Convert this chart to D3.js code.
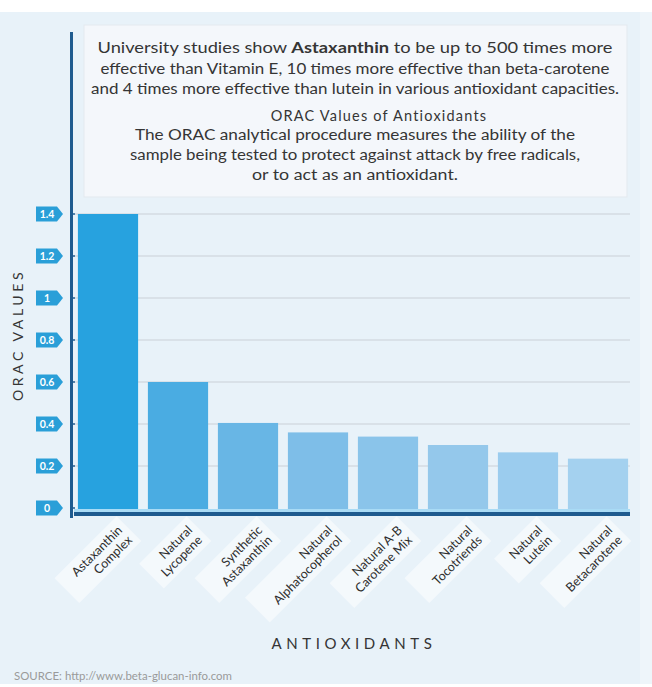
<!DOCTYPE html>
<html><head><meta charset="utf-8">
<script src="https://cdn.jsdelivr.net/npm/d3@7"></script>
<style>
html,body{margin:0;padding:0;background:#fff;}
svg{display:block;font-family:Lato,"Open Sans",sans-serif;}
</style></head>
<body><svg id="c" width="652" height="687"></svg>
<script>
// ---- data ----
const categories = [
  ["Astaxanthin","Complex"],
  ["Natural","Lycopene"],
  ["Synthetic","Astaxanthin"],
  ["Natural","Alphatocopherol"],
  ["Natural A-B","Carotene Mix"],
  ["Natural","Tocotriends"],
  ["Natural","Lutein"],
  ["Natural","Betacarotene"]
];
const values = [1.4, 0.6, 0.405, 0.36, 0.34, 0.3, 0.265, 0.235];
const barColors = ["#27a2df","#4aacE2","#68b6e5","#7ebee8","#8ac4ea","#94c8eb","#9bccee","#a4d1ef"];
const yTicks = [0, 0.2, 0.4, 0.6, 0.8, 1, 1.2, 1.4];
const headerLines = [
  "University studies show |Astaxanthin| to be up to 500 times more",
  "effective than Vitamin E, 10 times more effective than beta-carotene",
  "and 4 times more effective than lutein in various antioxidant capacities."
];
const subTitle = "ORAC Values of Antioxidants";
const subLines = [
  "The ORAC analytical procedure measures the ability of the",
  "sample being tested to protect against attack by free radicals,",
  "or to act as an antioxidant."
];
const yTitle = "ORAC VALUES";
const xTitle = "ANTIOXIDANTS";
const source = "SOURCE: http://www.beta-glucan-info.com";

// ---- drawing ----
const svg = d3.select("#c");
const textCol = "#353535";

// background panel
svg.append("rect").attr("x",0).attr("y",12).attr("width",640).attr("height",672).attr("fill","#e8f2f9");
svg.append("rect").attr("x",640).attr("y",12).attr("width",12).attr("height",672).attr("fill","#eef5fa");

// header box
svg.append("rect").attr("x",84).attr("y",25).attr("width",543).attr("height",172)
  .attr("fill","#f4f7fb").attr("stroke","#e3e9ef").attr("stroke-width",1);

const y = d3.scaleLinear().domain([0,1.4]).range([508,214]);
const x = d3.scaleBand().domain(d3.range(categories.length)).range([73,633]).paddingInner(0.14).paddingOuter(0.07);

// gridlines
svg.append("g").selectAll("line").data(yTicks.filter(d=>d>0)).join("line")
  .attr("x1",75).attr("x2",630).attr("y1",d=>y(d)).attr("y2",d=>y(d))
  .attr("stroke","#d9e1e8").attr("stroke-width",2);

// bars
svg.append("g").selectAll("rect").data(values).join("rect")
  .attr("x",(d,i)=>x(i)).attr("width",x.bandwidth())
  .attr("y",d=>y(d)).attr("height",d=>510-y(d))
  .attr("fill",(d,i)=>barColors[i]);

// light stripe under bars and axis line
svg.append("rect").attr("x",74).attr("y",509).attr("width",556).attr("height",3).attr("fill","#a9dbf5");
svg.append("rect").attr("x",74).attr("y",512).attr("width",556).attr("height",4).attr("fill","#1e5b8f");
// vertical axis line
svg.append("rect").attr("x",70).attr("y",32).attr("width",3).attr("height",486).attr("fill","#1e5b8f");

// y tick tags
const tg = svg.append("g").selectAll("g").data(yTicks).join("g")
  .attr("transform",d=>`translate(0,${y(d)})`);
tg.append("path").attr("d","M36,-7.5 L57,-7.5 L63,0 L57,7.5 L36,7.5 Z").attr("fill","#2a9fd8");
tg.append("text").attr("x",47).attr("y",4).attr("text-anchor","middle")
  .attr("fill","#fff").attr("font-size",10.5).attr("font-weight","bold").text(d=>d3.format("~g")(d));
// small ticks
svg.append("g").selectAll("circle").data(yTicks).join("circle")
  .attr("cx",74).attr("cy",d=>y(d)).attr("r",1).attr("fill","#1e5b8f");

// x labels
const lg = svg.append("g").selectAll("g").data(categories).join("g")
  .attr("transform",(d,i)=>`translate(${x(i)+x.bandwidth()/2+15},531) rotate(-45)`);
lg.append("rect").attr("x",d=>-Math.max(d[0].length,d[1].length)*6.9-6).attr("y",-15)
  .attr("width",d=>Math.max(d[0].length,d[1].length)*6.9+12).attr("height",35)
  .attr("fill","#ffffff").attr("opacity",0.5);
lg.selectAll("text").data(d=>d).join("text")
  .attr("x",0).attr("y",(d,j)=>j*14).attr("text-anchor","end")
  .attr("fill","#2e2e2e").attr("font-size",12.5).text(d=>d);

// axis titles
svg.append("text").attr("transform","translate(23,335) rotate(-90)").attr("text-anchor","middle")
  .attr("font-size",14).attr("letter-spacing",3.6).attr("fill",textCol).text(yTitle);
svg.append("text").attr("x",354).attr("y",649).attr("text-anchor","middle")
  .attr("font-size",15).attr("letter-spacing",4.6).attr("fill",textCol).text(xTitle);

// source
svg.append("text").attr("x",14).attr("y",680).attr("font-size",10.5).attr("fill","#9a9a9a")
  .attr("textLength",218).attr("lengthAdjust","spacingAndGlyphs").text(source);

// header texts
function fitText(sel, w){
  sel.attr("textLength",w).attr("lengthAdjust","spacingAndGlyphs");
}
const headerY = [53,74,94];
const headerW = [515,509,528];
headerLines.forEach((ln,i)=>{
  const t = svg.append("text").attr("x",355).attr("y",headerY[i]).attr("text-anchor","middle")
    .attr("font-size",15).attr("fill",textCol);
  ln.split("|").forEach((part,k)=>{
    t.append("tspan").attr("font-weight",k===1?"bold":"normal").text(part);
  });
  fitText(t, headerW[i]);
});
svg.append("text").attr("x",379).attr("y",121).attr("text-anchor","middle")
  .attr("font-size",14.5).attr("letter-spacing",1.2).attr("fill",textCol).text(subTitle);
const subY = [140,160,180];
const subW = [440,450,206];
subLines.forEach((ln,i)=>{
  const t = svg.append("text").attr("x",355).attr("y",subY[i]).attr("text-anchor","middle")
    .attr("font-size",14.5).attr("fill",textCol).text(ln);
  fitText(t, subW[i]);
});
</script></body></html>
